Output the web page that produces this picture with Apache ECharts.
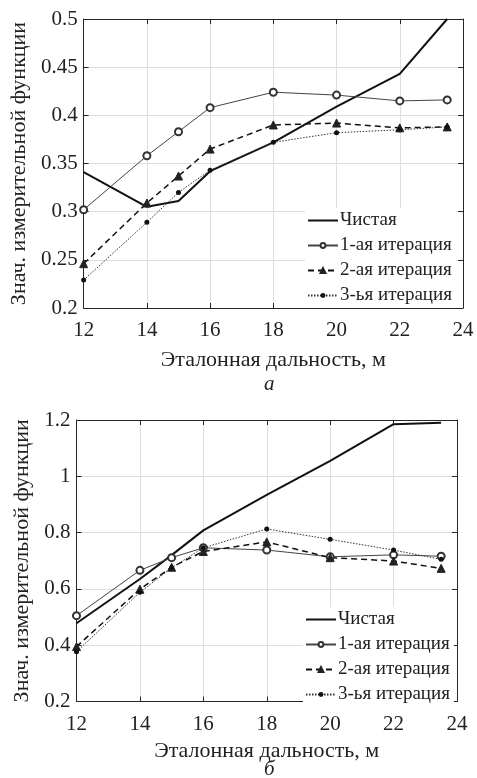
<!DOCTYPE html>
<html>
<head>
<meta charset="utf-8">
<script src="https://cdn.jsdelivr.net/npm/echarts@6/dist/echarts.min.js"></script>
<style>
  html, body { margin: 0; padding: 0; background: #fff; }
  #chart { width: 477px; height: 778px; }
</style>
</head>
<body>
<div id="chart"></div>
<script>
// Reference distances (m) shared by both panels
const distances = [12, 14, 15, 16, 18, 20, 22, 23.5];
const seriesNames = ['Чистая', '1-ая итерация', '2-ая итерация', '3-ья итерация'];

// Panel а
const cleanA = [0.341, 0.305, 0.311, 0.342, 0.372, 0.409, 0.443, 0.500];
const iter1A = [0.302, 0.358, 0.383, 0.408, 0.424, 0.421, 0.415, 0.416];
const iter2A = [0.246, 0.309, 0.337, 0.365, 0.390, 0.392, 0.387, 0.388];
const iter3A = [0.229, 0.289, 0.320, 0.343, 0.372, 0.382, 0.385, 0.388];

// Panel б
const cleanB = [0.478, 0.635, 0.720, 0.808, 0.934, 1.055, 1.185, 1.190];
const iter1B = [0.505, 0.666, 0.711, 0.746, 0.738, 0.714, 0.721, 0.716];
const iter2B = [0.395, 0.599, 0.677, 0.733, 0.767, 0.711, 0.699, 0.673];
const iter3B = [0.377, 0.588, 0.675, 0.746, 0.813, 0.776, 0.738, 0.705];

const xTitle = 'Эталонная дальность, м';
const yTitle = 'Знач. измерительной функции';

const FONT = '"Liberation Serif", "DejaVu Serif", serif';
const AXIS_COLOR = '#262626';
const GRID_COLOR = '#dedede';

function pairs(ys) { return distances.map((x, i) => [x, ys[i]]); }

const styles = [
  { showSymbol: false, symbol: 'none', lineStyle: { width: 2, color: '#111', type: 'solid' }, itemStyle: { color: '#111' } },
  { symbol: 'emptyCircle', symbolSize: 7, lineStyle: { width: 1, color: '#444', type: 'solid' }, itemStyle: { color: '#333', borderWidth: 1 } },
  { symbol: 'triangle', symbolSize: 8, lineStyle: { width: 1.5, color: '#111', type: [6, 4] }, itemStyle: { color: '#222', borderColor: '#222', borderWidth: 1 } },
  { symbol: 'circle', symbolSize: 5, lineStyle: { width: 1, color: '#333', type: [1.5, 1.5] }, itemStyle: { color: '#111' } }
];

function makeSeries(dataSets, axisIndex) {
  return dataSets.map((ys, k) => Object.assign({
    type: 'line',
    name: seriesNames[k],
    xAxisIndex: axisIndex,
    yAxisIndex: axisIndex,
    data: pairs(ys),
    animation: false,
    z: 3
  }, JSON.parse(JSON.stringify(styles[k]))));
}

function mainX(gridIndex, nameGap, labelMargin) {
  return {
    type: 'value', gridIndex, min: 12, max: 24, interval: 2, position: 'bottom',
    name: xTitle, nameLocation: 'middle', nameGap,
    nameTextStyle: { fontFamily: FONT, fontSize: 22, color: '#222' },
    axisLine: { show: true, lineStyle: { color: AXIS_COLOR, width: 1 } },
    axisTick: { show: true, inside: true, length: 5, lineStyle: { color: AXIS_COLOR } },
    axisLabel: { fontFamily: FONT, fontSize: 21, color: '#222', margin: labelMargin },
    splitLine: { show: true, lineStyle: { color: GRID_COLOR, width: 1 } }
  };
}
function mainY(gridIndex, min, max, interval, nameGap) {
  return {
    type: 'value', gridIndex, min, max, interval, position: 'left',
    name: yTitle, nameLocation: 'middle', nameGap,
    nameTextStyle: { fontFamily: FONT, fontSize: 22, color: '#222' },
    axisLine: { show: true, lineStyle: { color: AXIS_COLOR, width: 1 } },
    axisTick: { show: true, inside: true, length: 5, lineStyle: { color: AXIS_COLOR } },
    axisLabel: { fontFamily: FONT, fontSize: 21, color: '#222', margin: 6 },
    splitLine: { show: true, lineStyle: { color: GRID_COLOR, width: 1 } }
  };
}
// Mirror axes closing the box (top / right) with inward ticks
function boxX(gridIndex) {
  return {
    type: 'value', gridIndex, min: 12, max: 24, interval: 2, position: 'top',
    axisLine: { show: true, lineStyle: { color: AXIS_COLOR, width: 1 } },
    axisTick: { show: true, inside: true, length: 5, lineStyle: { color: AXIS_COLOR } },
    axisLabel: { show: false }, splitLine: { show: false }
  };
}
function boxY(gridIndex, min, max, interval) {
  return {
    type: 'value', gridIndex, min, max, interval, position: 'right',
    axisLine: { show: true, lineStyle: { color: AXIS_COLOR, width: 1 } },
    axisTick: { show: true, inside: true, length: 5, lineStyle: { color: AXIS_COLOR } },
    axisLabel: { show: false }, splitLine: { show: false }
  };
}

// Plain line swatch for the symbol-less series
const lineIcon = 'path://M0,0L30,0L30,2L0,2Z';

function makeLegend(left, top) {
  return {
    orient: 'vertical', left, top,
    data: [
      { name: seriesNames[0], icon: lineIcon },
      seriesNames[1], seriesNames[2], seriesNames[3]
    ],
    itemWidth: 30, itemHeight: 6, itemGap: 6,
    padding: [3, 4, 3, 2],
    backgroundColor: '#fff',
    selectedMode: false,
    textStyle: { fontFamily: FONT, fontSize: 19, color: '#222', lineHeight: 18, padding: [0, 0, 0, -3] },
    z: 10
  };
}

const chart = echarts.init(document.getElementById('chart'), null, { renderer: 'canvas' });
chart.setOption({
  backgroundColor: '#fff',
  animation: false,
  grid: [
    { left: 77.5, top: 19, width: 385.5, height: 289 },
    { left: 76.5, top: 420, width: 380.5, height: 281.5 }
  ],
  xAxis: [mainX(0, 41, 12), mainX(1, 39, 12), boxX(0), boxX(1)],
  yAxis: [mainY(0, 0.2, 0.5, 0.05, 45), mainY(1, 0.2, 1.2, 0.2, 37), boxY(0, 0.2, 0.5, 0.05), boxY(1, 0.2, 1.2, 0.2)],
  legend: [makeLegend(305, 208), makeLegend(303, 607)],
  series: [].concat(
    makeSeries([cleanA, iter1A, iter2A, iter3A], 0),
    makeSeries([cleanB, iter1B, iter2B, iter3B], 1)
  ),
  graphic: [
    { type: 'text', left: 264, top: 374, style: { text: 'а', font: 'italic 21px ' + FONT, fill: '#222' } },
    { type: 'text', left: 264, top: 759, style: { text: 'б', font: 'italic 21px ' + FONT, fill: '#222' } }
  ]
});
</script>
</body>
</html>
